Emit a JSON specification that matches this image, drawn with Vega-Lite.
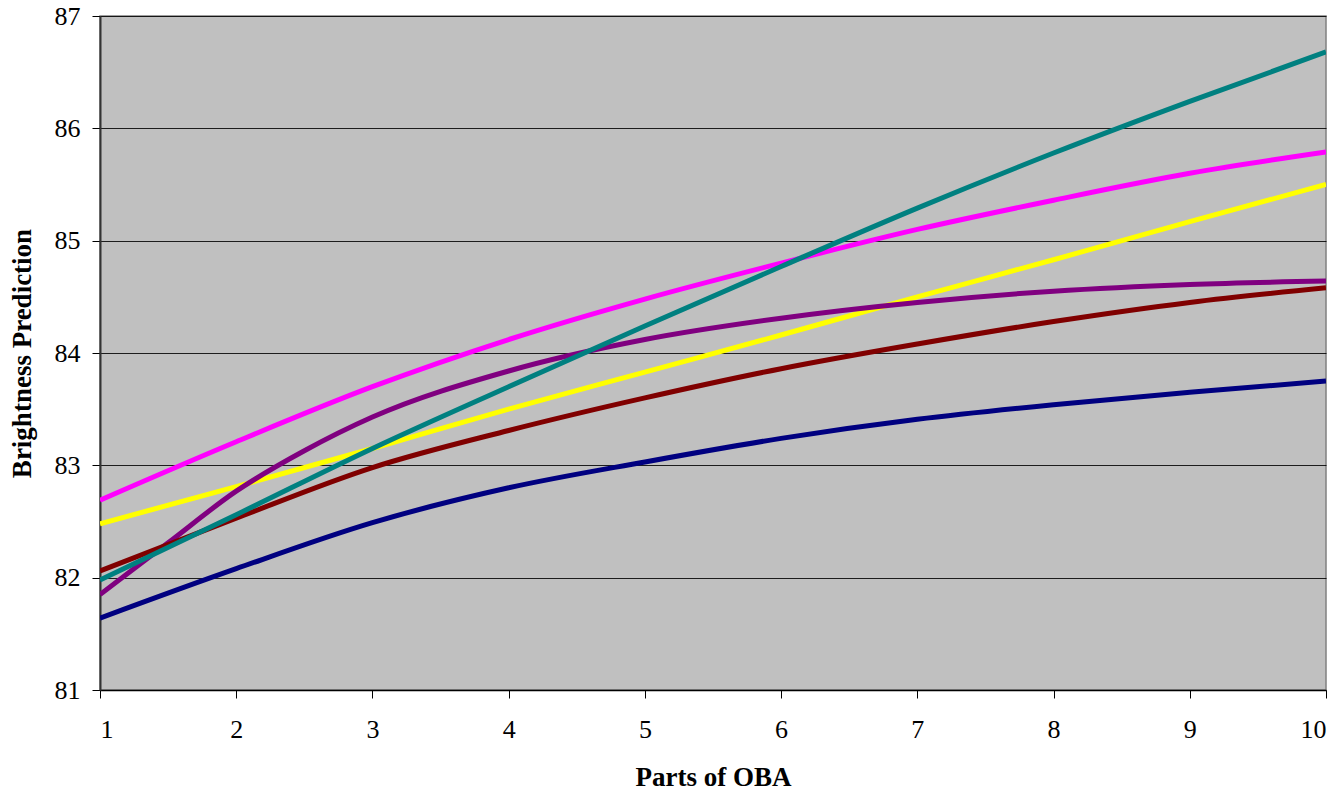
{
  "$schema": "https://vega.github.io/schema/vega-lite/v6.json",
  "autosize": "none",
  "width": 1226,
  "height": 674,
  "padding": {"left": 100, "top": 16, "right": 13, "bottom": 101},
  "background": "white",
  "config": {
    "view": {"fill": "#C0C0C0", "stroke": "#808080", "strokeWidth": 1.5},
    "font": "Liberation Serif"
  },
  "data": {
    "values": [
      {"series": "s1", "x": 1, "y": 81.64}, {"series": "s1", "x": 2, "y": 82.08}, {"series": "s1", "x": 3, "y": 82.49}, {"series": "s1", "x": 4, "y": 82.8}, {"series": "s1", "x": 5, "y": 83.03}, {"series": "s1", "x": 6, "y": 83.24}, {"series": "s1", "x": 7, "y": 83.41}, {"series": "s1", "x": 8, "y": 83.54}, {"series": "s1", "x": 9, "y": 83.65}, {"series": "s1", "x": 10, "y": 83.75},
      {"series": "s2", "x": 1, "y": 82.69}, {"series": "s2", "x": 2, "y": 83.21}, {"series": "s2", "x": 3, "y": 83.7}, {"series": "s2", "x": 4, "y": 84.12}, {"series": "s2", "x": 5, "y": 84.48}, {"series": "s2", "x": 6, "y": 84.8}, {"series": "s2", "x": 7, "y": 85.1}, {"series": "s2", "x": 8, "y": 85.36}, {"series": "s2", "x": 9, "y": 85.6}, {"series": "s2", "x": 10, "y": 85.79},
      {"series": "s3", "x": 1, "y": 82.48}, {"series": "s3", "x": 2, "y": 82.81}, {"series": "s3", "x": 3, "y": 83.15}, {"series": "s3", "x": 4, "y": 83.5}, {"series": "s3", "x": 5, "y": 83.83}, {"series": "s3", "x": 6, "y": 84.16}, {"series": "s3", "x": 7, "y": 84.5}, {"series": "s3", "x": 8, "y": 84.83}, {"series": "s3", "x": 9, "y": 85.17}, {"series": "s3", "x": 10, "y": 85.5},
      {"series": "s4", "x": 1, "y": 81.85}, {"series": "s4", "x": 1.5, "y": 82.31}, {"series": "s4", "x": 2, "y": 82.77}, {"series": "s4", "x": 2.5, "y": 83.13}, {"series": "s4", "x": 3, "y": 83.43}, {"series": "s4", "x": 4, "y": 83.84}, {"series": "s4", "x": 5, "y": 84.12}, {"series": "s4", "x": 6, "y": 84.31}, {"series": "s4", "x": 7, "y": 84.45}, {"series": "s4", "x": 8, "y": 84.55}, {"series": "s4", "x": 9, "y": 84.61}, {"series": "s4", "x": 10, "y": 84.64},
      {"series": "s5", "x": 1, "y": 82.06}, {"series": "s5", "x": 2, "y": 82.53}, {"series": "s5", "x": 3, "y": 82.98}, {"series": "s5", "x": 4, "y": 83.31}, {"series": "s5", "x": 5, "y": 83.6}, {"series": "s5", "x": 6, "y": 83.86}, {"series": "s5", "x": 7, "y": 84.08}, {"series": "s5", "x": 8, "y": 84.28}, {"series": "s5", "x": 9, "y": 84.45}, {"series": "s5", "x": 10, "y": 84.58},
      {"series": "s6", "x": 1, "y": 81.98}, {"series": "s6", "x": 2, "y": 82.56}, {"series": "s6", "x": 3, "y": 83.15}, {"series": "s6", "x": 4, "y": 83.7}, {"series": "s6", "x": 5, "y": 84.24}, {"series": "s6", "x": 6, "y": 84.77}, {"series": "s6", "x": 7, "y": 85.29}, {"series": "s6", "x": 8, "y": 85.78}, {"series": "s6", "x": 9, "y": 86.24}, {"series": "s6", "x": 10, "y": 86.68}
    ]
  },
  "mark": {"type": "line", "strokeWidth": 5, "interpolate": "monotone", "clip": true},
  "encoding": {
    "x": {
      "field": "x", "type": "quantitative",
      "scale": {"domain": [1, 10], "nice": false, "zero": false},
      "axis": {
        "title": "Parts of OBA", "values": [1, 2, 3, 4, 5, 6, 7, 8, 9, 10], "grid": false,
        "domainColor": "#000000", "domainWidth": 1.5, "tickColor": "#000000", "tickSize": 8, "tickWidth": 1,
        "labelFont": "Liberation Serif", "labelFontSize": 26, "labelColor": "#000000", "labelPadding": 18,
        "titleFont": "Liberation Serif", "titleFontSize": 27, "titleFontWeight": "bold", "titleColor": "#000000", "titlePadding": 22
      }
    },
    "y": {
      "field": "y", "type": "quantitative",
      "scale": {"domain": [81, 87], "nice": false, "zero": false},
      "axis": {
        "title": "Brightness Prediction", "values": [81, 82, 83, 84, 85, 86, 87], "grid": true,
        "gridColor": "#000000", "gridWidth": 1, "gridOpacity": 0.85,
        "domainColor": "#333333", "domainWidth": 2, "tickColor": "#000000", "tickSize": 8, "tickWidth": 1,
        "labelFont": "Liberation Serif", "labelFontSize": 26, "labelColor": "#000000", "labelPadding": 12,
        "titleFont": "Liberation Serif", "titleFontSize": 27, "titleFontWeight": "bold", "titleColor": "#000000", "titlePadding": 18
      }
    },
    "color": {
      "field": "series", "type": "nominal", "legend": null,
      "scale": {"domain": ["s1", "s2", "s3", "s4", "s5", "s6"], "range": ["#000080", "#FF00FF", "#FFFF00", "#800080", "#800000", "#008080"]}
    }
  }
}
